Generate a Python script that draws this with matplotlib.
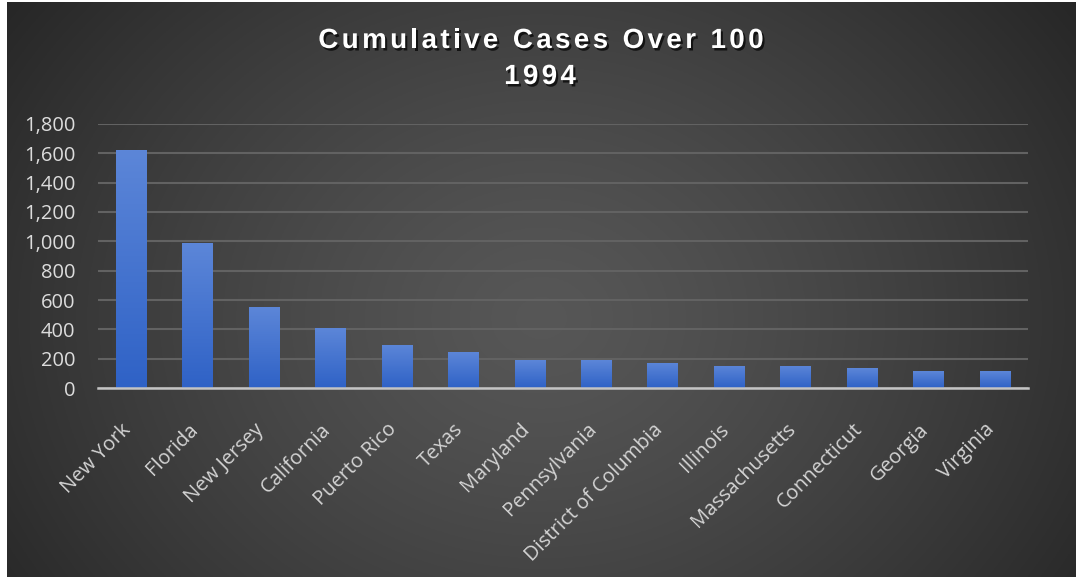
import numpy as np
import matplotlib
matplotlib.use("Agg")
import matplotlib.pyplot as plt
import matplotlib.patheffects as pe
import matplotlib.transforms as mtransforms
from matplotlib.font_manager import FontProperties
from matplotlib.ticker import FuncFormatter

states = ["New York", "Florida", "New Jersey", "California", "Puerto Rico", "Texas",
          "Maryland", "Pennsylvania", "District of Columbia", "Illinois",
          "Massachusetts", "Connecticut", "Georgia", "Virginia"]
cases = [1620, 988, 552, 406, 296, 243, 189, 189, 171, 153, 153, 134, 114, 114]
yticks = [0, 200, 400, 600, 800, 1000, 1200, 1400, 1600, 1800]
title_lines = ["Cumulative Cases Over 100", "1994"]

W, H = 1076, 577
fig = plt.figure(figsize=(W / 100, H / 100), dpi=100, facecolor="white")

# dark radial backdrop, lighter near the middle
bg = fig.add_axes([7 / W, 0, 1 - 7 / W, 1 - 2 / H], zorder=0)
yy, xx = np.mgrid[0:1:300j, 0:1:560j]
r = np.sqrt(((xx - 0.5) / 0.62) ** 2 + ((yy - 0.45) / 0.95) ** 2)
shade = np.clip(0.34 - 0.19 * r ** 1.3, 0.14, 0.34)
bg.imshow(np.dstack([shade] * 3), aspect="auto", extent=[0, 1, 0, 1], origin="lower")
bg.axis("off")

ax = fig.add_axes([98 / W, 1 - 388 / H, 930 / W, 264 / H], zorder=1)
ax.patch.set_alpha(0)

x = np.arange(len(states))
bars = ax.bar(x, cases, width=0.46, color="none", zorder=3)
grad = np.linspace(0, 1, 100).reshape(-1, 1)
cmap = matplotlib.colors.LinearSegmentedColormap.from_list("bar", ["#2f62c6", "#5c86d8"])
for b in bars:
    x0, y0 = b.get_x(), b.get_y()
    im = ax.imshow(grad, cmap=cmap, aspect="auto", origin="lower", zorder=3,
                   extent=[x0, x0 + b.get_width(), y0, y0 + b.get_height()])
    im.set_clip_path(b)

ax.set_xlim(-0.5, len(states) - 0.5)
ax.set_ylim(0, 1800)
ax.set_yticks(yticks)
ax.yaxis.set_major_formatter(FuncFormatter(lambda v, p: f"{int(v):,}"))
ax.grid(axis="y", color="#626262", linewidth=1.5, zorder=1)
ax.set_axisbelow(True)
for s in ["top", "right", "left"]:
    ax.spines[s].set_visible(False)
ax.spines["bottom"].set_color("#c4c4c4")
ax.spines["bottom"].set_linewidth(1.8)
ax.spines["bottom"].set_zorder(4)

ax.tick_params(axis="y", length=0, pad=16.5, labelsize=14.5, labelcolor="#dcdcdc")
ax.tick_params(axis="x", length=0, pad=4, labelsize=14.5, labelcolor="#d4d4d4")
ax.set_xticks(x)
ax.set_xticklabels(states, rotation=45, ha="right", rotation_mode="anchor")
shift = mtransforms.ScaledTranslation(-0.10, -0.26, fig.dpi_scale_trans)
for lab in ax.get_xticklabels():
    lab.set_family("Open Sans")
    lab.set_transform(lab.get_transform() + shift)
for lab in ax.get_yticklabels():
    lab.set_family("Open Sans")

# title with extra letter spacing, laid out glyph by glyph
tprop = FontProperties(family="Liberation Sans", weight="bold", size=20)
renderer = fig.canvas.get_renderer()
shadow = [pe.withSimplePatchShadow(offset=(1.5, -1.8), shadow_rgbFace="black", alpha=0.7)]


def spaced_title(line, xc, y_base, gap):
    widths = [renderer.get_text_width_height_descent(c, tprop, ismath=False)[0] for c in line]
    total = sum(widths) + gap * (len(line) - 1)
    xpos = xc - total / 2
    for c, w in zip(line, widths):
        if c != " ":
            fig.text(xpos / W, 1 - y_base / H, c, fontproperties=tprop, color="white",
                     ha="left", va="baseline", path_effects=shadow)
        xpos += w + gap


spaced_title(title_lines[0], 541, 48, 3.4)
spaced_title(title_lines[1], 540, 84, 3.4)

fig.savefig("out.png", dpi=100, facecolor=fig.get_facecolor())
